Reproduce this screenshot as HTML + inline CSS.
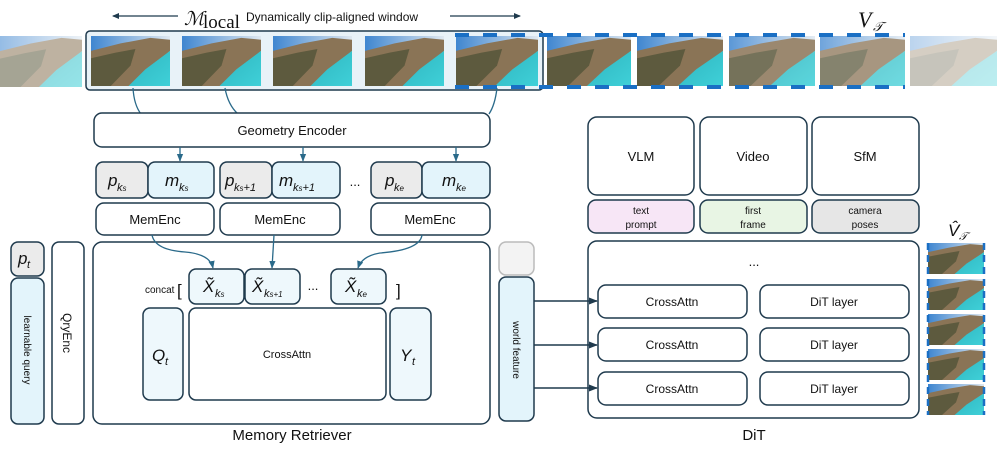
<!DOCTYPE html>
<html><head><meta charset="utf-8"><style>
body{margin:0;background:#fff}
svg text{font-family:"Liberation Sans",sans-serif;fill:#111}
.m{font-family:"Liberation Serif",serif;font-style:italic}
</style></head><body>
<svg width="997" height="445" viewBox="0 0 997 445" xmlns="http://www.w3.org/2000/svg">
<defs>
<linearGradient id="sky" x1="0" y1="0" x2="1" y2="0"><stop offset="0" stop-color="#3f86d0"/><stop offset="1" stop-color="#dfe8f0"/></linearGradient>
<linearGradient id="sea" x1="0" y1="0" x2="1" y2="1"><stop offset="0" stop-color="#2fb5bf"/><stop offset="1" stop-color="#3fd0d8"/></linearGradient>
<symbol id="f" viewBox="0 0 80 54" preserveAspectRatio="none">
<rect width="80" height="54" fill="url(#sky)"/>
<polygon points="0,16 30,8 60,2 80,4 80,16 55,40 40,54 0,54" fill="#8a7456"/>
<polygon points="0,24 25,18 45,14 40,32 20,54 0,54" fill="#5d5a3e"/>
<polygon points="80,16 80,54 38,54 55,36" fill="url(#sea)"/>
</symbol>
<marker id="a" viewBox="0 0 10 10" refX="9" refY="5" markerWidth="6" markerHeight="6" orient="auto"><path d="M0,1 L10,5 L0,9z" fill="#2a6a8a"/></marker>
<marker id="b" viewBox="0 0 10 10" refX="9" refY="5" markerWidth="6" markerHeight="6" orient="auto"><path d="M0,1 L10,5 L0,9z" fill="#1f3a4d"/></marker>
</defs>

<!-- top title -->
<line x1="113" y1="16" x2="178" y2="16" stroke="#1f3a4d" stroke-width="1.2"/>
<path d="M112,16 l7,-3 v6z" fill="#1f3a4d"/>
<line x1="450" y1="16" x2="520" y2="16" stroke="#1f3a4d" stroke-width="1.2"/>
<path d="M521,16 l-7,-3 v6z" fill="#1f3a4d"/>
<text x="184" y="25" font-size="19" class="m" style="font-family:'DejaVu Serif',serif">ℳ</text>
<text x="203" y="28" font-size="19" style="font-family:'Liberation Serif',serif">local</text>
<text x="246" y="21" font-size="12">Dynamically clip-aligned window</text>
<text x="858" y="27" font-size="22" class="m">V</text><text x="873" y="31" font-size="13" class="m">𝒯</text>

<!-- frames -->
<g opacity="0.55"><use href="#f" x="0" y="36" width="82" height="51"/></g>
<rect x="86" y="31" width="457" height="59" rx="4" fill="#e8f2f8" stroke="#1f3a4d" stroke-width="1.5"/>
<use href="#f" x="91" y="36" width="79" height="50"/>
<use href="#f" x="182" y="36" width="79" height="50"/>
<use href="#f" x="273" y="36" width="79" height="50"/>
<use href="#f" x="365" y="36" width="79" height="50"/>
<use href="#f" x="456" y="36" width="82" height="50"/>
<use href="#f" x="547" y="36" width="84" height="50"/>
<use href="#f" x="637" y="36" width="86" height="50"/>
<g opacity="0.85"><use href="#f" x="729" y="36" width="86" height="50"/></g>
<g opacity="0.75"><use href="#f" x="820" y="36" width="85" height="50"/></g>
<g opacity="0.35"><use href="#f" x="910" y="36" width="87" height="50"/></g>
<g stroke="#1a6fc4" stroke-width="4" stroke-dasharray="14,14" fill="none">
<line x1="455" y1="35" x2="905" y2="35"/><line x1="455" y1="87" x2="905" y2="87"/>
</g>

<g stroke="#2a6a8a" stroke-width="1.3" fill="none">
<path d="M133,88 Q134,105 141,114"/><path d="M225,88 Q228,105 238,114"/><path d="M497,88 Q495,105 489,114"/>
</g>

<g stroke="#1f3a4d" stroke-width="1.5">
<rect x="94" y="113" width="396" height="34" rx="8" fill="#fff"/>
<rect x="96" y="162" width="52" height="36" rx="7" fill="#ebebeb"/>
<rect x="148" y="162" width="66" height="36" rx="7" fill="#e3f4fb"/>
<rect x="220" y="162" width="52" height="36" rx="7" fill="#ebebeb"/>
<rect x="272" y="162" width="68" height="36" rx="7" fill="#e3f4fb"/>
<rect x="371" y="162" width="51" height="36" rx="7" fill="#ebebeb"/>
<rect x="422" y="162" width="68" height="36" rx="7" fill="#e3f4fb"/>
<rect x="96" y="203" width="118" height="32" rx="8" fill="#fff"/>
<rect x="220" y="203" width="120" height="32" rx="8" fill="#fff"/>
<rect x="371" y="203" width="119" height="32" rx="8" fill="#fff"/>
<rect x="11" y="242" width="33" height="34" rx="7" fill="#ebebeb"/>
<rect x="11" y="278" width="33" height="146" rx="7" fill="#e3f4fb"/>
<rect x="52" y="242" width="32" height="182" rx="7" fill="#fff"/>
<rect x="93" y="242" width="397" height="182" rx="9" fill="#fff"/>
<rect x="189" y="269" width="55" height="35" rx="7" fill="#eef8fc"/>
<rect x="245" y="269" width="55" height="35" rx="7" fill="#eef8fc"/>
<rect x="331" y="269" width="55" height="35" rx="7" fill="#eef8fc"/>
<rect x="143" y="308" width="40" height="92" rx="7" fill="#eef8fc"/>
<rect x="189" y="308" width="197" height="92" rx="7" fill="#fff"/>
<rect x="390" y="308" width="41" height="92" rx="7" fill="#eef8fc"/>
<rect x="499" y="242" width="35" height="33" rx="7" fill="#f3f3f3" stroke="#bbb"/>
<rect x="499" y="277" width="35" height="144" rx="7" fill="#e3f4fb"/>
<rect x="588" y="117" width="106" height="78" rx="9" fill="#fff"/>
<rect x="700" y="117" width="107" height="78" rx="9" fill="#fff"/>
<rect x="812" y="117" width="107" height="78" rx="9" fill="#fff"/>
<rect x="588" y="200" width="106" height="33" rx="8" fill="#f7e6f6"/>
<rect x="700" y="200" width="107" height="33" rx="8" fill="#e8f5e4"/>
<rect x="812" y="200" width="107" height="33" rx="8" fill="#e6e6e6"/>
<rect x="588" y="241" width="331" height="177" rx="9" fill="#fff"/>
<rect x="598" y="285" width="149" height="33" rx="8" fill="#fff"/>
<rect x="598" y="328" width="149" height="33" rx="8" fill="#fff"/>
<rect x="598" y="372" width="149" height="33" rx="8" fill="#fff"/>
<rect x="760" y="285" width="149" height="33" rx="8" fill="#fff"/>
<rect x="760" y="328" width="149" height="33" rx="8" fill="#fff"/>
<rect x="760" y="372" width="149" height="33" rx="8" fill="#fff"/>
</g>

<g stroke="#2a6a8a" stroke-width="1.3" fill="none" marker-end="url(#a)">
<line x1="180" y1="147" x2="180" y2="161"/><line x1="303" y1="147" x2="303" y2="161"/><line x1="456" y1="147" x2="456" y2="161"/>
<path d="M152,235 Q155,250 185,252 Q210,254 213,268"/>
<path d="M274,235 L272,268"/>
<path d="M422,235 Q420,250 380,253 Q362,256 358,268"/>
</g>
<g stroke="#1f3a4d" stroke-width="1.5" fill="none" marker-end="url(#b)">
<line x1="534" y1="301" x2="597" y2="301"/><line x1="534" y1="345" x2="597" y2="345"/><line x1="534" y1="388" x2="597" y2="388"/>
</g>

<g font-size="13" text-anchor="middle">
<text x="292" y="135">Geometry Encoder</text>
<text x="155" y="224">MemEnc</text><text x="280" y="224">MemEnc</text><text x="430" y="224">MemEnc</text>
<text x="287" y="358" font-size="11">CrossAttn</text>
<text x="641" y="161">VLM</text><text x="753" y="161">Video</text><text x="865" y="161">SfM</text>
<text x="672" y="306" font-size="12">CrossAttn</text><text x="672" y="349" font-size="12">CrossAttn</text><text x="672" y="393" font-size="12">CrossAttn</text>
<text x="834" y="306" font-size="12">DiT layer</text><text x="834" y="349" font-size="12">DiT layer</text><text x="834" y="393" font-size="12">DiT layer</text>
<text x="754" y="266">...</text>
<text x="355" y="186">...</text><text x="313" y="290">...</text>
<text x="292" y="440" font-size="15">Memory Retriever</text>
<text x="754" y="440" font-size="15">DiT</text>
</g>
<g font-size="10" text-anchor="middle">
<text x="641" y="214">text</text><text x="641" y="228">prompt</text>
<text x="753" y="214">first</text><text x="753" y="228">frame</text>
<text x="865" y="214">camera</text><text x="865" y="228">poses</text>
</g>
<text x="145" y="293" font-size="10">concat</text><text x="177" y="296" font-size="17">[</text><text x="396" y="296" font-size="17">]</text>
<text x="24" y="350" font-size="10" text-anchor="middle" transform="rotate(90 24 350)">learnable query</text>
<text x="63" y="333" font-size="12" text-anchor="middle" transform="rotate(90 63 333)">QryEnc</text>
<text x="513" y="350" font-size="10" text-anchor="middle" transform="rotate(90 513 350)">world feature</text>

<g class="m" font-size="17">
<text x="108" y="186">p</text><text x="117" y="191" font-size="11">k<tspan font-size="8">s</tspan></text>
<text x="165" y="186">m</text><text x="179" y="191" font-size="11">k<tspan font-size="8">s</tspan></text>
<text x="225" y="186">p</text><text x="234" y="191" font-size="11">k<tspan font-size="8">s</tspan>+1</text>
<text x="279" y="186">m</text><text x="293" y="191" font-size="11">k<tspan font-size="8">s</tspan>+1</text>
<text x="385" y="186">p</text><text x="394" y="191" font-size="11">k<tspan font-size="8">e</tspan></text>
<text x="442" y="186">m</text><text x="456" y="191" font-size="11">k<tspan font-size="8">e</tspan></text>
<text x="18" y="264">p</text><text x="27" y="268" font-size="11">t</text>
<text x="203" y="292">X̃</text><text x="215" y="297" font-size="11">k<tspan font-size="8">s</tspan></text>
<text x="252" y="292">X̃</text><text x="264" y="297" font-size="11">k<tspan font-size="8">s+1</tspan></text>
<text x="345" y="292">X̃</text><text x="357" y="297" font-size="11">k<tspan font-size="8">e</tspan></text>
<text x="152" y="361">Q</text><text x="165" y="365" font-size="11">t</text>
<text x="400" y="361">Y</text><text x="412" y="365" font-size="11">t</text>
<text x="948" y="236">V̂</text><text x="959" y="240" font-size="11">𝒯</text>
</g>

<use href="#f" x="928" y="243" width="56" height="31"/>
<use href="#f" x="928" y="279" width="56" height="31"/>
<use href="#f" x="928" y="314" width="56" height="31"/>
<use href="#f" x="928" y="349" width="56" height="31"/>
<use href="#f" x="928" y="384" width="56" height="31"/>
<g stroke="#1a6fc4" stroke-width="2.5" stroke-dasharray="7,5">
<line x1="928" y1="243" x2="928" y2="415"/><line x1="984" y1="243" x2="984" y2="415"/>
</g>
</svg>
</body></html>
